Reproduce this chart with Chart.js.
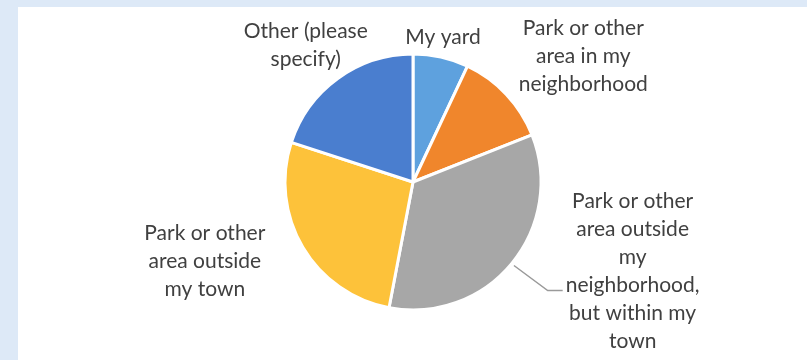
<!DOCTYPE html>
<html>
<head>
<meta charset="utf-8">
<script src="https://cdn.jsdelivr.net/npm/chart.js@4"></script>
<style>
  html, body { margin: 0; padding: 0; }
  body { width: 807px; height: 360px; background: #dde9f7; position: relative; overflow: hidden; }
  #panel { position: absolute; left: 18px; top: 7px; right: 0; bottom: 0; background: #ffffff; }
  #chart { position: absolute; left: 0; top: 0; }
</style>
</head>
<body>
<div id="panel"></div>
<canvas id="chart" width="807" height="360"></canvas>
<script>
// Where respondents go: share of answers per place
const categories = [
  ['My yard'],
  ['Park or other', 'area in my', 'neighborhood'],
  ['Park or other', 'area outside', 'my', 'neighborhood,', 'but within my', 'town'],
  ['Park or other', 'area outside', 'my town'],
  ['Other (please', 'specify)']
];
const shares = [7, 12, 34, 27, 20];
const sliceColors = ['#5ea1de', '#f0862c', '#a7a7a7', '#fdc23a', '#4a7ecf'];

// Label block offsets from the slice's outer mid-point (px)
const labelOffsets = [[2, -20], [77, -38], [121, 8], [-98, 14], [-32, -33]];
const leaderFor = 2;   // slice whose label gets a leader line

const FONT = '21px Lato, "Open Sans", sans-serif';
const LINE_H = 28;

const outsideLabels = {
  id: 'outsideLabels',
  afterDatasetsDraw(chart) {
    const ctx = chart.ctx;
    const arcs = chart.getDatasetMeta(0).data;
    ctx.save();
    ctx.font = FONT;
    ctx.fillStyle = '#404040';
    ctx.textAlign = 'center';
    ctx.textBaseline = 'middle';
    arcs.forEach((arc, i) => {
      const p = arc.getProps(['x', 'y', 'startAngle', 'endAngle', 'outerRadius'], true);
      const mid = (p.startAngle + p.endAngle) / 2;
      const ax = p.x + Math.cos(mid) * p.outerRadius;
      const ay = p.y + Math.sin(mid) * p.outerRadius;
      const cx = ax + labelOffsets[i][0];
      const cy = ay + labelOffsets[i][1];
      const lines = categories[i];
      const top = cy - (lines.length - 1) * LINE_H / 2;
      lines.forEach((t, k) => ctx.fillText(t, cx, top + k * LINE_H));
      if (i === leaderFor) {
        const k = 3;
        const w = ctx.measureText(lines[k]).width;
        const ex = cx - w / 2 - 3;
        const ey = top + k * LINE_H + 5;
        const sx = p.x + Math.cos(mid) * (p.outerRadius + 3);
        const sy = p.y + Math.sin(mid) * (p.outerRadius + 3);
        ctx.beginPath();
        ctx.strokeStyle = '#9a9a9a';
        ctx.lineWidth = 1.5;
        ctx.moveTo(sx, sy);
        ctx.lineTo(ex - 15, ey);
        ctx.lineTo(ex, ey);
        ctx.stroke();
      }
    });
    ctx.restore();
  }
};

new Chart(document.getElementById('chart'), {
  type: 'pie',
  data: {
    labels: categories.map(l => l.join(' ')),
    datasets: [{
      data: shares,
      backgroundColor: sliceColors,
      borderColor: '#ffffff',
      borderWidth: 3
    }]
  },
  options: {
    responsive: false,
    animation: false,
    radius: 128,
    layout: { padding: { left: 19, right: 0, top: 4, bottom: 0 } },
    plugins: { legend: { display: false }, tooltip: { enabled: false } }
  },
  plugins: [outsideLabels]
});
</script>
</body>
</html>
